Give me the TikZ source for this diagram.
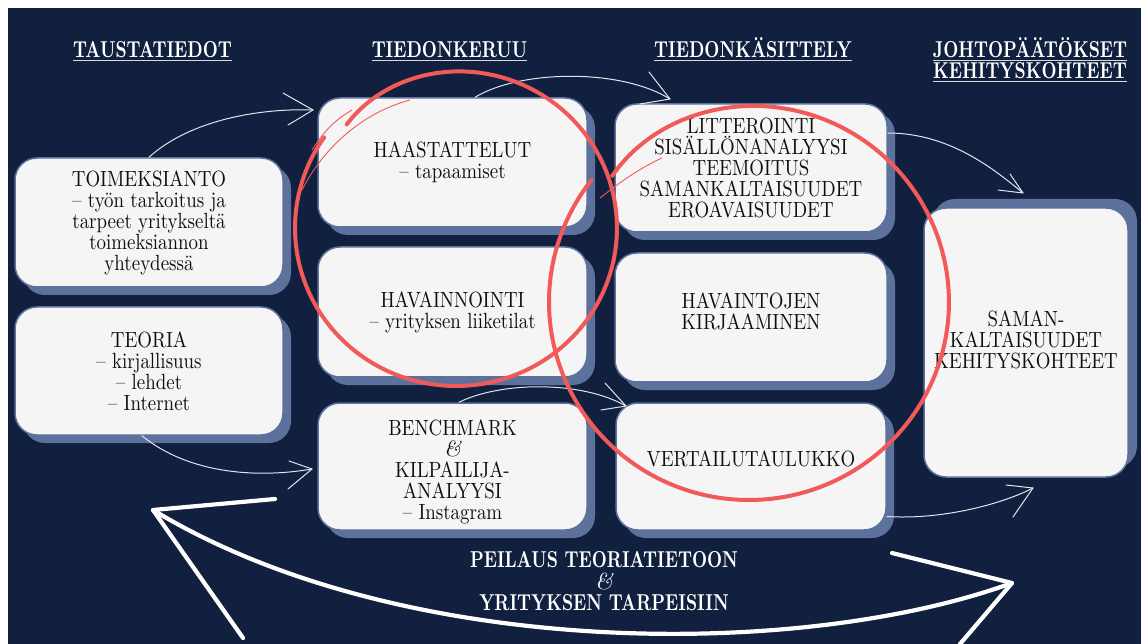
\documentclass[tikz,border=0pt]{standalone}
\usepackage{fontspec}
\setmainfont{lmroman10-regular.otf}[FakeStretch=0.86,BoldFont=lmroman10-bold.otf,ItalicFont=lmroman10-italic.otf]
\newfontfamily\hdfont{lmroman10-bold.otf}[FakeStretch=0.76]
\newfontfamily\ampfont{lmroman10-italic.otf}
\usetikzlibrary{shadows}
\definecolor{navy}{HTML}{11203E}
\definecolor{slate}{HTML}{5C719C}
\definecolor{boxfill}{HTML}{F5F5F5}
\definecolor{redpen}{HTML}{F25A5A}
\definecolor{chalk}{HTML}{E2E5EC}
\definecolor{ink}{HTML}{0F0F0F}
\begin{document}
\begin{tikzpicture}[x=1pt,y=-1pt,
  boxbase/.style={draw=slate, line width=1.5pt, fill=boxfill, rounded corners=22pt,
    minimum width=268pt, minimum height=129pt, align=center, text=ink,
    font=\fontsize{22}{21}\selectfont},
  box/.style={boxbase, drop shadow={shadow xshift=8pt, shadow yshift=-8pt, fill=slate, opacity=1}},
  boxup/.style={boxbase, drop shadow={shadow xshift=9pt, shadow yshift=9pt, fill=slate, opacity=1}},
  txt/.style={align=center, text=ink, font=\fontsize{22}{21}\selectfont, inner sep=0pt},
  hd/.style={text=white, font=\hdfont\fontsize{23}{21}\selectfont, inner sep=0pt, anchor=base},
  ul/.style={draw=white!85!black, line width=1.6pt},
  bt/.style={text=white, font=\hdfont\fontsize{23}{21.5}\selectfont, align=center, inner sep=0pt},
  thinarrow/.style={draw=chalk, line width=1pt, line cap=round, line join=round},
  bigarrow/.style={draw=white, line width=4.2pt, line cap=round, line join=round},
  redstroke/.style={draw=redpen, line width=4pt, line cap=round},
  redthin/.style={draw=redpen, line width=0.9pt, line cap=round}
]
\useasboundingbox (0,0) rectangle (1141,644);
\fill[white] (0,0) rectangle (1141,644);
\fill[navy] (8,8) rectangle (1141,644);

% headers
\node[hd] (h1) at (152.5,58) {TAUSTATIEDOT};
\node[hd] (h2) at (449.5,58) {TIEDONKERUU};
\node[hd] (h3) at (753,58) {TIEDONKÄSITTELY};
\node[hd] (h4) at (1030,58) {JOHTOPÄÄTÖKSET};
\node[hd] (h5) at (1030,79) {KEHITYSKOHTEET};
\foreach \h in {h1,h2,h3,h4,h5}
  \draw[ul] ([yshift=-2.6pt]\h.base west) -- ([yshift=-2.6pt]\h.base east);

% boxes
\node[box] (b1) at (149,222.5) {TOIMEKSIANTO\\– työn tarkoitus ja\\tarpeet yritykseltä\\toimeksiannon\\yhteydessä};
\node[box, minimum height=128pt] (b2) at (149,371) {TEORIA\\– kirjallisuus\\– lehdet\\– Internet};
\node[box, minimum width=269pt] (b3) at (452.5,162.5) {HAASTATTELUT\\– tapaamiset};
\node[box, minimum width=269pt, minimum height=130pt] (b4) at (452.5,312) {HAVAINNOINTI\\– yrityksen liiketilat};
\node[box, minimum width=269pt, minimum height=127pt] (b5) at (452.5,466.5) {};
\node[txt] (t5) at ([yshift=-5pt]b5.center) {BENCHMARK\\{\ampfont\&}\\KILPAILIJA-\\ANALYYSI\\– Instagram};
\node[box, minimum width=272pt, minimum height=128pt] (b6) at (751,168) {LITTEROINTI\\SISÄLLÖNANALYYSI\\TEEMOITUS\\SAMANKALTAISUUDET\\EROAVAISUUDET};
\node[box, minimum width=272pt] (b7) at (751,317.5) {};
\node[txt] (t7) at ([yshift=6pt]b7.center) {HAVAINTOJEN\\KIRJAAMINEN};
\node[box, minimum width=270pt, minimum height=127pt] (b8) at (751,466.5) {};
\node[txt] (t8) at ([yshift=8pt]b8.center) {VERTAILUTAULUKKO};
\node[boxup, minimum width=204pt, minimum height=269pt] (b9) at (1026,342.5) {};
\node[txt] (t9) at ([yshift=2.5pt]b9.center) {SAMAN-\\KALTAISUUDET\\KEHITYSKOHTEET};

% thin arrows
\coordinate (a1) at (313,110);
\coordinate (a2) at (670,99);
\coordinate (a3) at (1023,193);
\coordinate (a4) at (312,469);
\coordinate (a5) at (626,406);
\coordinate (a6) at (1033,488);
\draw[thinarrow] (b1.north) .. controls (190,120) and (260,108) .. (a1);
\draw[thinarrow] (283,93) -- (a1) -- (288,125);
\draw[thinarrow] ([xshift=22.5pt]b3.north) .. controls (520,70) and (620,68) .. (a2);
\draw[thinarrow] (649,72) -- (a2) -- (640,104);
\draw[thinarrow] ([yshift=35pt]b6.east) .. controls (950,133) and (995,170) .. (a3);
\draw[thinarrow] (1010,174) -- (a3) -- (998,190);
\draw[thinarrow] ([xshift=-7pt]b2.south) .. controls (190,475) and (260,478) .. (a4);
\draw[thinarrow] (289,461) -- (a4) -- (288,489);
\draw[thinarrow] ([xshift=6.5pt]b5.north) .. controls (500,382) and (580,380) .. (a5);
\draw[thinarrow] (605,383) -- (a5) -- (601,410);
\draw[thinarrow] ([yshift=-50pt]b8.east) .. controls (940,520) and (1000,505) .. (a6);
\draw[thinarrow] (1006,485) -- (a6) -- (1013,517);

% red circles
\draw[redstroke] plot[smooth, domain=224:575, samples=110, variable=\t]
  ({456+(161-9*exp(-(\t-224)/25))*cos(\t)}, {228+(158-9*exp(-(\t-224)/25))*sin(\t)});
\draw[redthin] (302,190) .. controls (325,145) and (365,112) .. (410,100);
\draw[redthin] (312,150) .. controls (325,130) and (335,120) .. (352,110);
\draw[redstroke] plot[smooth, domain=223:578, samples=120, variable=\t]
  ({749+(200-13*exp(-(\t-223)/25))*cos(\t)}, {302+(198-13*exp(-(\t-223)/25))*sin(\t)});
\draw[redthin] (600,198) .. controls (620,182) and (640,168) .. (662,158);

% big double arrow
\coordinate (L) at (153,510);
\coordinate (R) at (1012,583);
\draw[bigarrow] (L) .. controls (400,660) and (800,660) .. (R);
\draw[bigarrow] (275,499) -- (L) -- (243,638);
\draw[bigarrow] (892,553) -- (R) -- (960,644);

\node[bt] (peil) at (604,581.5) {PEILAUS TEORIATIETOON\\{\ampfont\&}\\YRITYKSEN TARPEISIIN};
\end{tikzpicture}
\end{document}
